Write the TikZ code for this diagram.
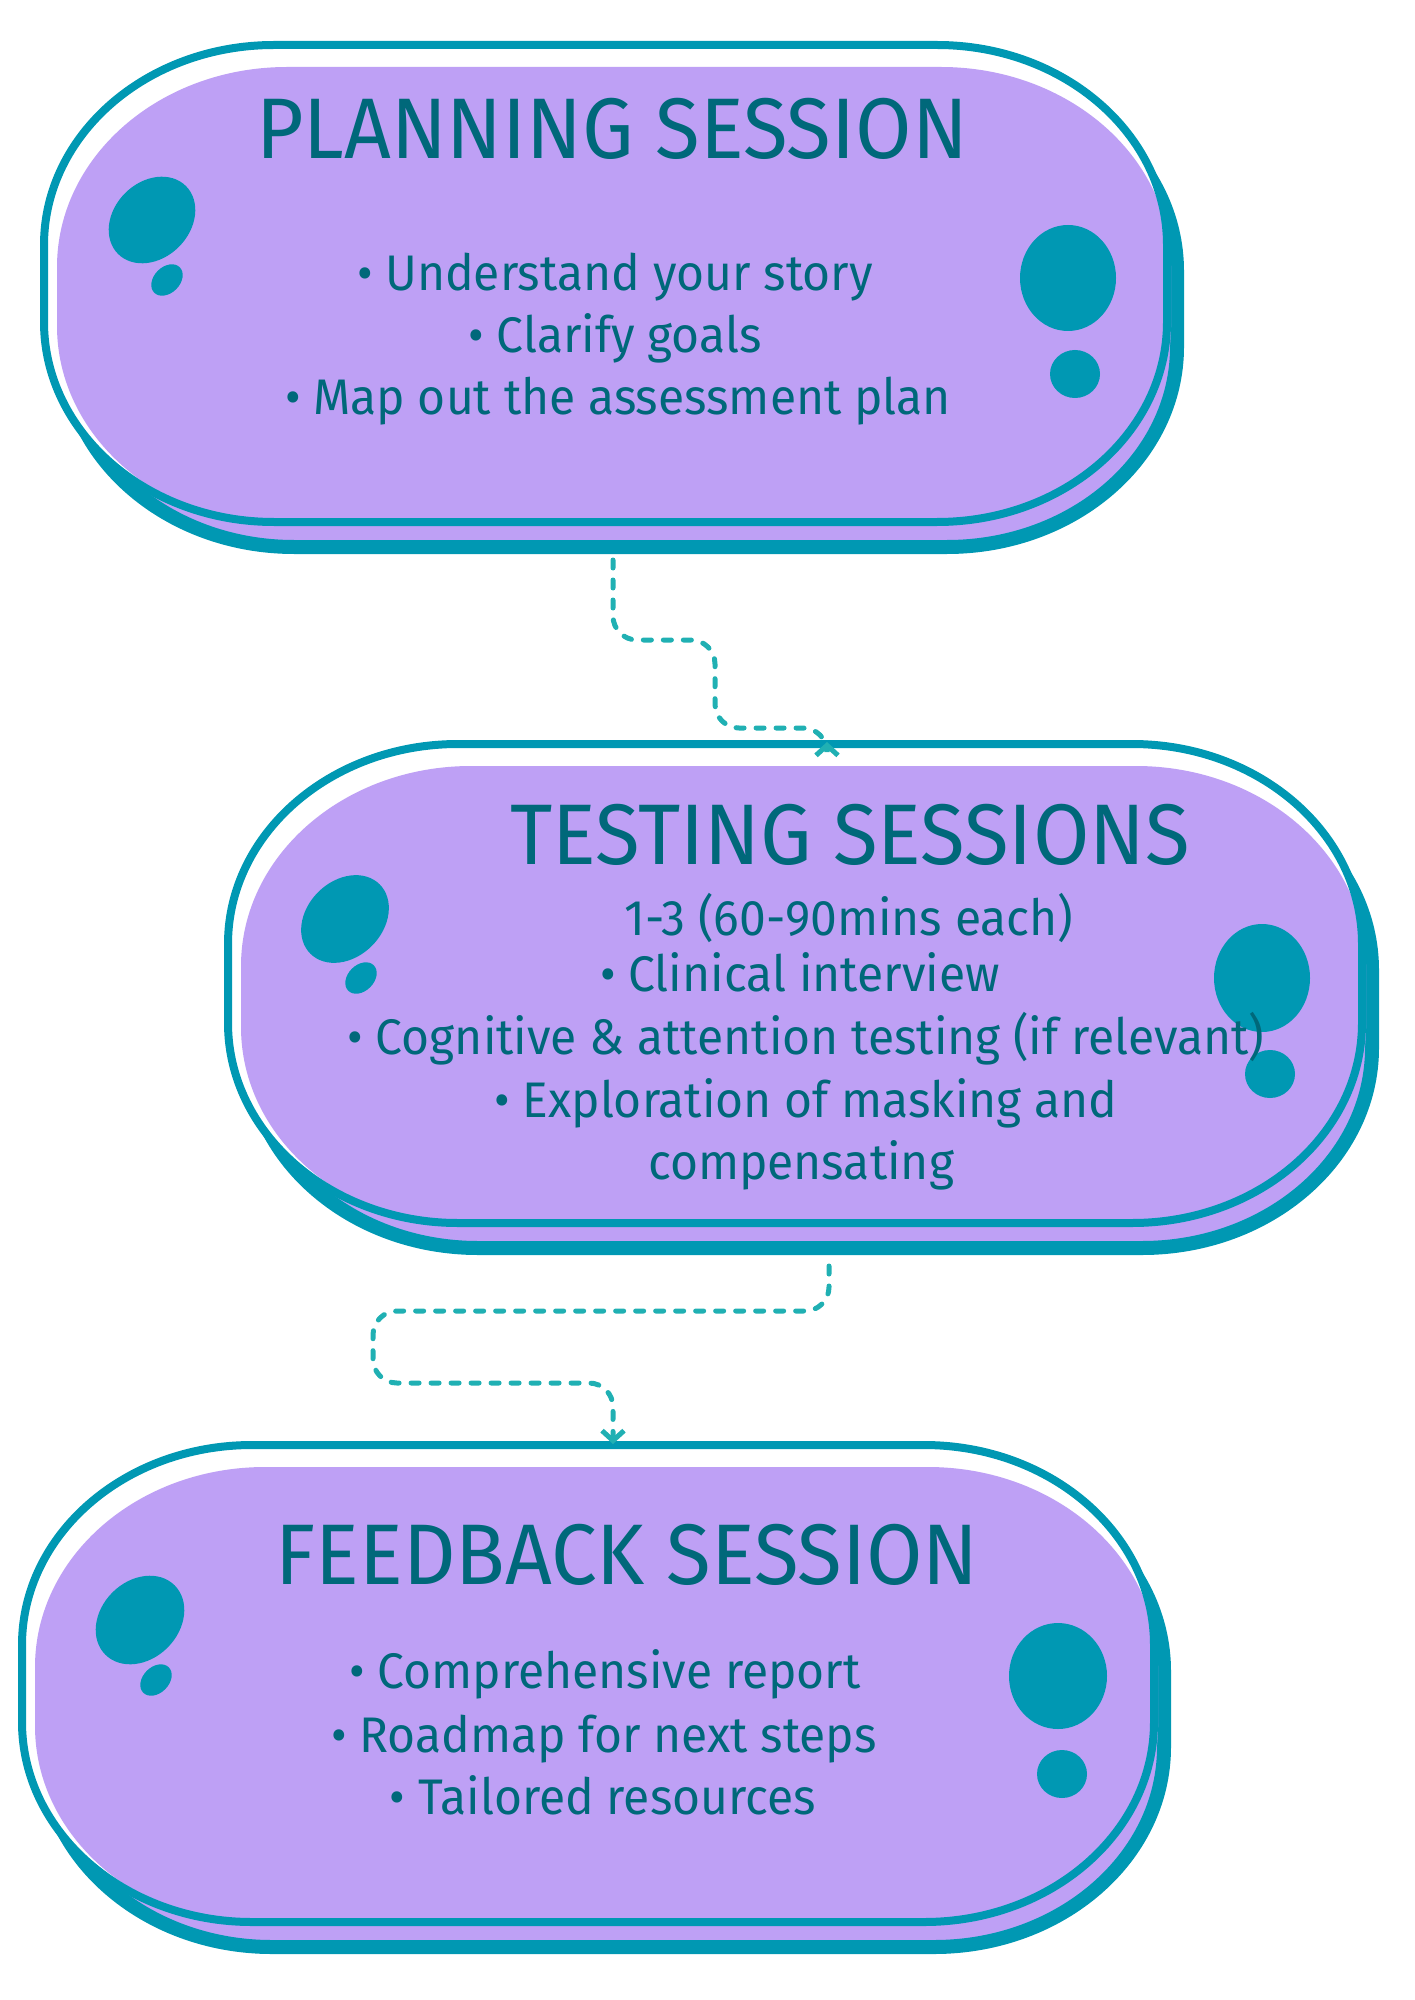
\documentclass[tikz,border=0pt]{standalone}
\usepackage{fontspec}
\setmainfont{Fira Sans}
\newfontfamily\headfont[FakeStretch=0.95]{Fira Sans}
\newfontfamily\bodyfont[FakeStretch=0.96]{Fira Sans}
\usetikzlibrary{arrows.meta}
\definecolor{pillpurple}{HTML}{BEA0F5}
\definecolor{pillteal}{HTML}{0098B3}
\definecolor{textteal}{HTML}{00687A}
\definecolor{dashteal}{HTML}{20B0B3}
\tikzset{
   back pill/.style={fill=pillpurple, draw=pillteal, line width=7pt},
   front gap/.style={fill=white},
   front fill/.style={fill=pillpurple},
   front line/.style={draw=pillteal, line width=4pt},
   blob/.style={fill=pillteal},
   heading/.style={font=\headfont\fontsize{43}{50}\selectfont,
      text=textteal, anchor=base, inner sep=0pt},
   item/.style={font=\bodyfont\fontsize{25}{30}\selectfont,
      text=textteal, anchor=base, inner sep=0pt},
   flow/.style={draw=dashteal, line width=2.5pt, line cap=round,
      dash pattern=on 4pt off 6pt, rounded corners=12pt,
      -{Straight Barb[length=5pt,width=11pt]}},
    }
% one rounded pill from (x1,y1) to (x2,y2)
\newcommand{\pill}[5]{%
  \path[#1] (#2+230,#3) -- (#4-230,#3)
    arc[start angle=270,end angle=360,x radius=230,y radius=200]
    -- (#4,#5-200)
    arc[start angle=0,end angle=90,x radius=230,y radius=200]
    -- (#2+230,#5)
    arc[start angle=90,end angle=180,x radius=230,y radius=200]
    -- (#2,#3+200)
    arc[start angle=180,end angle=270,x radius=230,y radius=200] -- cycle;}
% back pill, white gap, purple fill, outline
\newcommand{\session}[4]{%
  \pill{back pill}{#1+20}{#2+26}{#3+10}{#4+25}
  \pill{front gap}{#1}{#2}{#3}{#4}
  \pill{front fill}{#1+13}{#2+22}{#3+4}{#4+4}
  \pill{front line}{#1}{#2}{#3}{#4}}
\begin{document}
\begin{tikzpicture}[x=0.5pt,y=-0.5pt]
            \useasboundingbox (0,0) rectangle (1414,2000);
            % planning
            \session{44}{45}{1167}{522}
            \fill[blob, rotate around={45:(152,220)}] (152,220) ellipse[x radius=48, y radius=38];
            \fill[blob, rotate around={45:(167,280)}] (167,280) ellipse[x radius=18, y radius=13];
            \fill[blob] (1068,278) ellipse[x radius=48, y radius=53];
            \fill[blob] (1075,374) ellipse[x radius=25, y radius=24];
            \node[heading] (plan-title) at (612,159) {PLANNING SESSION};
            \node[item] (plan-a) at (615,291) {• Understand your story};
            \node[item] (plan-b) at (615,353) {• Clarify goals};
            \node[item] (plan-c) at (618,415) {• Map out the assessment plan};
            % testing
            \session{228}{744}{1362}{1223}
            \fill[blob, rotate around={45:(345,919)}] (345,919) ellipse[x radius=49, y radius=38];
            \fill[blob, rotate around={45:(361,978)}] (361,978) ellipse[x radius=18, y radius=13];
            \fill[blob] (1262,978) ellipse[x radius=48, y radius=54];
            \fill[blob] (1270,1074) ellipse[x radius=25, y radius=24];
            \node[heading] (test-title) at (850,864) {TESTING SESSIONS};
            \node[item] (test-a) at (849,935) {1-3 (60-90mins each)};
            \node[item] (test-b) at (800,991) {• Clinical interview};
            \node[item] (test-c) at (806,1054) {• Cognitive \& attention testing (if relevant)};
            \node[item] (test-d) at (806,1117) {• Exploration of masking and};
            \node[item] (test-e) at (801,1179) {compensating};
            % feedback
            \session{22}{1445}{1154}{1922}
            \fill[blob, rotate around={45:(140,1620)}] (140,1620) ellipse[x radius=49, y radius=39];
            \fill[blob, rotate around={45:(156,1680)}] (156,1680) ellipse[x radius=18, y radius=13];
            \fill[blob] (1058,1676) ellipse[x radius=49, y radius=53];
            \fill[blob] (1062,1774) ellipse[x radius=25, y radius=24];
            \node[heading] (feed-title) at (627,1584) {FEEDBACK SESSION};
            \node[item] (feed-a) at (605,1688) {• Comprehensive report};
            \node[item] (feed-b) at (604,1752) {• Roadmap for next steps};
            \node[item] (feed-c) at (603,1814) {• Tailored resources};
            % connectors
            \coordinate (plan-out) at (613,560);
            \coordinate (test-in) at (827,742);
            \coordinate (test-out) at (829,1266);
            \coordinate (feed-in) at (613,1444);
            \draw[flow] (plan-out) -- ++(0,80) -- ++(102,0) -- ++(0,88) -- ++(112,0) [sharp corners] -- (test-in);
            \draw[flow] (test-out) -- ++(0,45) -- ++(-456,0) -- ++(0,72) -- ++(240,0) -- (feed-in);
        \end{tikzpicture}
\end{document}
